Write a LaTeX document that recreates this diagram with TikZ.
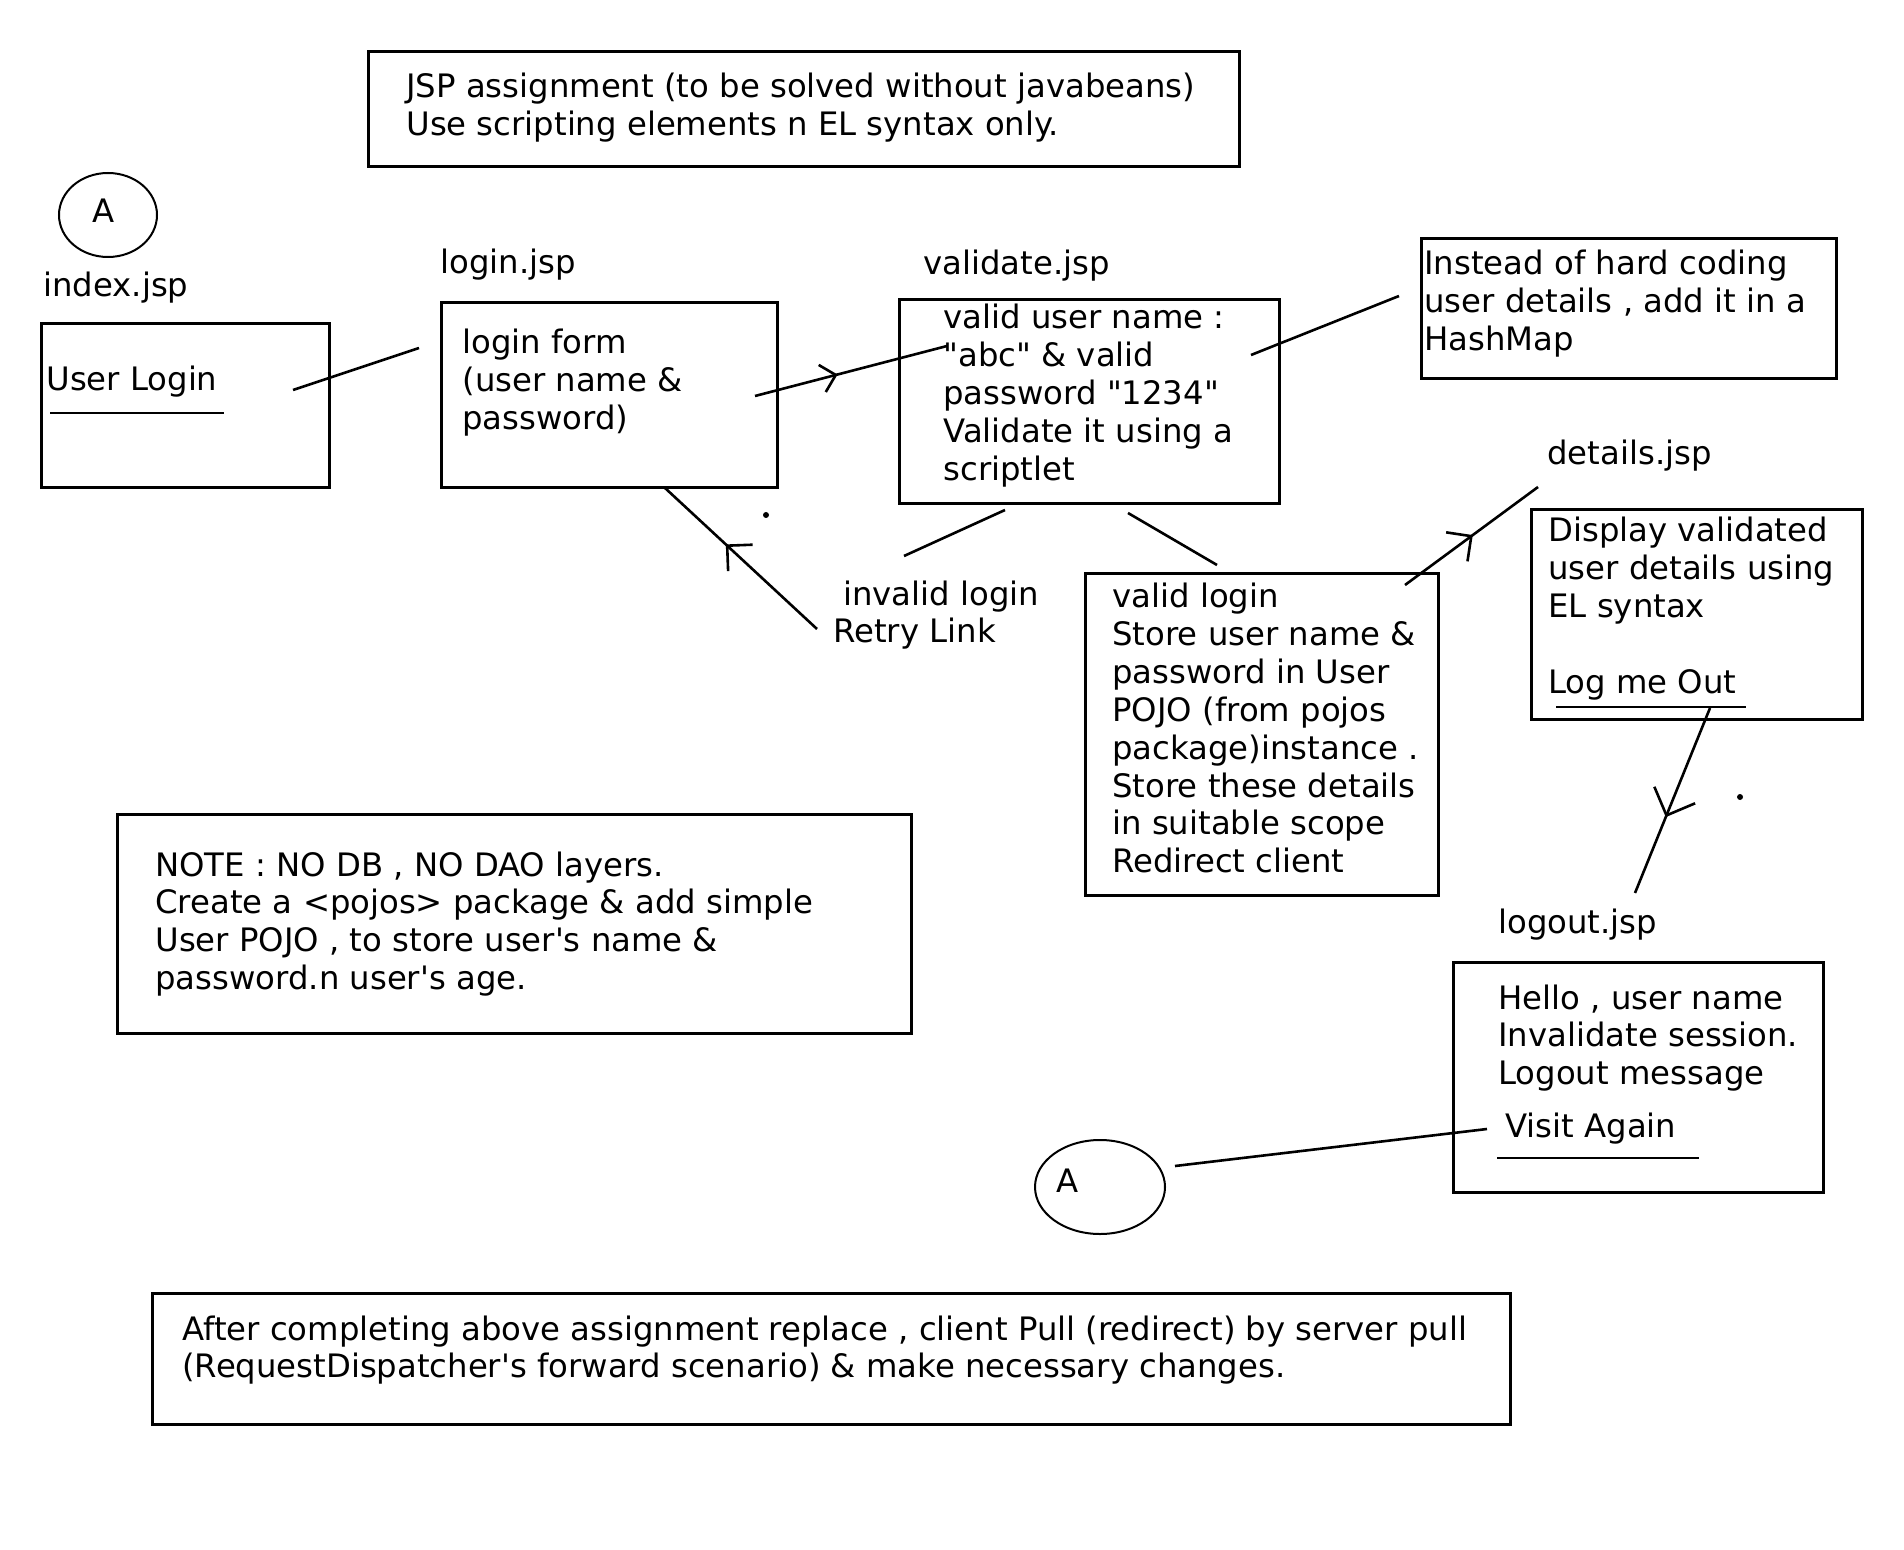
\documentclass[tikz,border=0pt]{standalone}
\usepackage{fontspec}
\setmainfont{DejaVu Sans}
\usetikzlibrary{arrows.meta,decorations.markings,shapes.geometric}
\newcommand\mlines[1]{\begin{tabular}[t]{@{}l@{}}#1\end{tabular}}
\newcommand\mybox[5]{\node[box, anchor=north west, minimum width={(#4-#2)*0.5pt}, minimum height={(#5-#3)*0.5pt}] (#1) at (#2,#3) {};}
\newcommand\dq{\textquotedbl}
\newcommand\sq{\textquotesingle}
\tikzset{
  box/.style={draw, line width=1.7pt, inner sep=0pt},
  txt/.style={anchor=base west, inner sep=0pt, font=\fontsize{16.15}{18.9}\selectfont},
  conn/.style={line width=1.3pt},
  uline/.style={line width=1.3pt},
  oval/.style={draw, ellipse, line width=1pt, inner sep=0pt},
  midarrow/.style 2 args={postaction={decorate}, decoration={markings, mark=at position #1 with {\arrow{Straight Barb[length=#2pt, width={2*#2pt}, line width=1.3pt]}}}},
}
\begin{document}
\begin{tikzpicture}[x=0.5pt,y=-0.5pt]
\useasboundingbox[fill=white] (0,0) rectangle (1904,1550);

% boxes
\mybox{top}{367}{50}{1238}{165}
\mybox{index}{40}{322}{328}{486}
\mybox{login}{440}{301}{776}{486}
\mybox{validate}{898}{298}{1278}{502}
\mybox{hashmap}{1420}{237}{1835}{377}
\mybox{details}{1530}{508}{1861}{718}
\mybox{valid}{1084}{572}{1437}{894}
\mybox{logout}{1452}{961}{1822}{1191}
\mybox{note}{116}{813}{910}{1032}
\mybox{after}{151}{1292}{1509}{1423}

% ovals
\node[oval, minimum width=49pt, minimum height=42pt] (A1) at (108,215) {};
\node[oval, minimum width=65pt, minimum height=47pt] (A2) at (1100,1187) {};
\node[txt, anchor=center] (A1t) at (104,211) {A};
\node[txt, anchor=center] (A2t) at (1068,1181) {A};

% texts
\node[txt] (topt) at (406,98) {\mlines{JSP assignment (to be solved without javabeans)\\Use scripting elements n EL syntax only.}};
\node[txt] (indexl) at (43,297) {index.jsp};
\node[txt] (userlogin) at (46,391) {User Login};
\node[txt] (loginl) at (440,274) {login.jsp};
\node[txt] (logint) at (462,354) {\mlines{login form\\(user name \&\\password)}};
\node[txt] (validatel) at (923,275) {validate.jsp};
\node[txt] (validatet) at (943,329) {\mlines{valid user name :\\\dq abc\dq{} \& valid\\password \dq 1234\dq\\Validate it using a\\scriptlet}};
\node[txt] (hashmapt) at (1424,275) {\mlines{Instead of hard coding\\user details , add it in a\\HashMap}};
\node[txt] (detailsl) at (1547,465) {details.jsp};
\node[txt] (detailst) at (1548,542) {\mlines{Display validated\\user details using\\EL syntax\\ \\Log me Out}};
\node[txt] (invalid) at (833,605) {\mlines{\hspace*{5pt}invalid login\\Retry Link}};
\node[txt] (validt) at (1112,608) {\mlines{valid login\\Store user name \&\\password in User\\POJO (from pojos\\package)instance .\\Store these details\\in suitable scope\\Redirect client}};
\node[txt] (logoutl) at (1498,933) {logout.jsp};
\node[txt] (logoutt) at (1498,1009) {\mlines{Hello , user name\\Invalidate session.\\Logout message}};
\node[txt] (visit) at (1505,1137) {Visit Again};
\node[txt] (notet) at (155,876) {\mlines{NOTE : NO DB , NO DAO layers.\\Create a <pojos> package \& add simple\\User POJO , to store user\sq s name \&\\password.n user\sq s age.}};
\node[txt] (aftert) at (182,1340) {\mlines{After completing above assignment replace , client Pull (redirect) by server pull\\(RequestDispatcher\sq s forward scenario) \& make necessary changes.}};

% underlines
\coordinate (u1a) at (50,413);   \coordinate (u1b) at (224,413);
\coordinate (u2a) at (1556,707); \coordinate (u2b) at (1746,707);
\coordinate (u3a) at (1497,1158);\coordinate (u3b) at (1699,1158);
\draw[uline] (u1a) -- (u1b);
\draw[uline] (u2a) -- (u2b);
\draw[uline] (u3a) -- (u3b);

% connector end points
\coordinate (c1a) at (293,390);  \coordinate (c1b) at (419,348);
\coordinate (c2a) at (755,396);  \coordinate (c2b) at (947,346);
\coordinate (c3a) at (1251,355); \coordinate (c3b) at (1399,296);
\coordinate (c4a) at (1005,510); \coordinate (c4b) at (904,556);
\coordinate (c5a) at (817,629);  \coordinate (c5b) at (665,488);
\coordinate (c6a) at (1128,513); \coordinate (c6b) at (1217,565);
\coordinate (c7a) at (1405,585); \coordinate (c7b) at (1538,487);
\coordinate (c8a) at (1710,708); \coordinate (c8b) at (1635,893);
\coordinate (c9a) at (1487,1129);\coordinate (c9b) at (1175,1166);

\draw[conn] (c1a) -- (c1b);
\draw[conn, midarrow={0.43}{7}] (c2a) -- (c2b);
\draw[conn] (c3a) -- (c3b);
\draw[conn] (c4a) -- (c4b);
\draw[conn, midarrow={0.6}{9}] (c5a) -- (c5b);
\draw[conn] (c6a) -- (c6b);
\draw[conn, midarrow={0.51}{9}] (c7a) -- (c7b);
\draw[conn, midarrow={0.59}{11}] (c8a) -- (c8b);
\draw[conn] (c9a) -- (c9b);

% stray dots
\fill (766,515) circle[radius=1.5pt];
\fill (1740,797) circle[radius=1.5pt];
\end{tikzpicture}
\end{document}
